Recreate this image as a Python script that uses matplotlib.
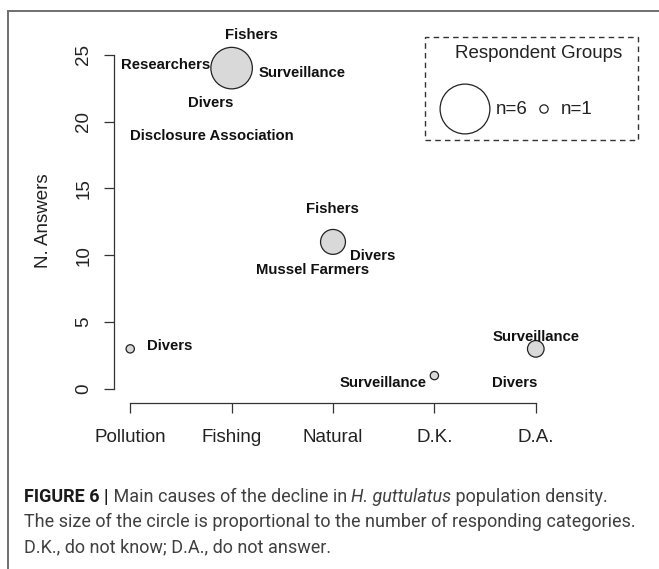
import matplotlib
matplotlib.use("Agg")
import matplotlib.pyplot as plt
import numpy as np
from matplotlib import font_manager
from matplotlib.patches import Rectangle
from matplotlib.lines import Line2D

# data
causes = ['Pollution', 'Fishing', 'Natural', 'D.K.', 'D.A.']
answers = [3, 24, 11, 1, 3]
groups = [['Divers'],
          ['Fishers', 'Researchers', 'Surveillance', 'Divers', 'Disclosure Association'],
          ['Fishers', 'Divers', 'Mussel Farmers'],
          ['Surveillance'],
          ['Surveillance', 'Divers']]
legend_n = [6, 1]

caption_bold = 'FIGURE 6 |'
caption_1 = [' Main causes of the decline in ', 'H. guttulatus', ' population density.']
caption_2 = 'The size of the circle is proportional to the number of responding categories.'
caption_3 = 'D.K., do not know; D.A., do not answer.'

# label offsets (data units) from each circle, same order as groups
offsets = [[(0.39, 0.24)],
           [(0.195, 2.46), (-0.653, 0.2), (0.70, -0.36), (-0.204, -2.6), (-0.20, -5.07)],
           [(-0.01, 2.43), (0.39, -1.06), (-0.2, -2.1)],
           [(-0.505, -0.58)],
           [(0.0, 0.91), (-0.21, -2.58)]]


def pick(fams):
    for f in fams:
        try:
            font_manager.findfont(f, fallback_to_default=False)
            return f
        except Exception:
            pass
    return 'DejaVu Sans'


plt.rcParams['font.family'] = ['Liberation Sans', 'DejaVu Sans']

W, H = 659, 569
fig = plt.figure(figsize=(W / 100, H / 100), dpi=100)


def fx(px):
    return px / W


def fy(py):
    return 1 - py / H


ax = fig.add_axes([fx(114), fy(403), fx(552) - fx(114), fy(24) - fy(403)])
x = np.arange(1, len(causes) + 1)
n_groups = np.array([len(g) for g in groups])
px_per_group = 8.3 * 0.72  # circle diameter in points per responding group

ax.scatter(x, answers, s=(px_per_group * n_groups) ** 2, facecolor='#d9d9d9',
           edgecolor='#222222', linewidths=0.9, zorder=3)

for xi, yi, labs, offs in zip(x, answers, groups, offsets):
    for lab, (dx, dy) in zip(labs, offs):
        ax.text(xi + dx, yi + dy, lab, ha='center', va='center', fontsize=10.7,
                fontweight='bold', color='#111111')

ax.set_xlim(0.84, 5.16)
ax.set_ylim(-1.05, 27.3)
ax.spines['top'].set_visible(False)
ax.spines['right'].set_visible(False)
ax.spines['left'].set_bounds(0, 25)
ax.spines['bottom'].set_bounds(1, 5)
for s in ['left', 'bottom']:
    ax.spines[s].set_color('#333333')
    ax.spines[s].set_linewidth(0.9)
ax.set_xticks(x, causes)
ax.set_yticks(range(0, 26, 5))
ax.tick_params(axis='both', length=7.5, width=0.9, color='#333333',
               labelsize=13.5, labelcolor='#222222')
ax.tick_params(axis='x', pad=11)
ax.tick_params(axis='y', pad=8)
for lab in ax.get_yticklabels():
    lab.set_rotation(90)
    lab.set_va('center')

fig.text(fx(44), fy(221), 'N. Answers', rotation=90, ha='center', va='center',
         fontsize=13.5, color='#222222')

# legend box
fig.add_artist(Rectangle((fx(425), fy(140)), fx(638) - fx(425), fy(37) - fy(140),
                         transform=fig.transFigure, fill=False, ec='#333333',
                         lw=1.0, ls=(0, (4, 3))))
fig.text(fx(539), fy(54), 'Respondent Groups', ha='center', va='center',
         fontsize=13.5, color='#222222')
ax.scatter([fx(465), fx(544)], [fy(109), fy(109)],
           s=(px_per_group * np.array(legend_n)) ** 2, facecolor='white',
           edgecolor='#222222', linewidths=0.9, transform=fig.transFigure,
           clip_on=False)
fig.text(fx(496), fy(109), 'n=%d' % legend_n[0], ha='left', va='center',
         fontsize=13.5, color='#222222')
fig.text(fx(561), fy(109), 'n=%d' % legend_n[1], ha='left', va='center',
         fontsize=13.5, color='#222222')

# outer frame
fig.add_artist(Line2D([fx(8), 1], [fy(11), fy(11)], transform=fig.transFigure,
                      color='#707070', lw=1.4))
fig.add_artist(Line2D([fx(8), fx(8)], [fy(11), 0], transform=fig.transFigure,
                      color='#707070', lw=1.4))

# caption
cap_fam = [pick(['Liberation Sans Narrow', 'Roboto', 'Lato']), 'DejaVu Sans']
renderer = fig.canvas.get_renderer()
t2 = fig.text(fx(24), fy(522), caption_2, family=cap_fam, fontsize=12,
              va='center', color='#404040')
w = t2.get_window_extent(renderer).width
cap_size = 12 * 611 / w
t2.set_fontsize(cap_size)
fig.text(fx(24), fy(547), caption_3, family=cap_fam, fontsize=cap_size,
         va='center', color='#404040')

t = fig.text(fx(24), fy(497), caption_bold, family=cap_fam, fontsize=cap_size,
             fontweight='bold', va='center', color='#1a1a1a')
xpos = t.get_window_extent(renderer).x1
styles = ['normal', 'italic', 'normal']
for piece, st in zip(caption_1, styles):
    t = fig.text(xpos / W, fy(497), piece, family=cap_fam, fontsize=cap_size,
                 style=st, va='center', color='#404040')
    xpos = t.get_window_extent(renderer).x1

fig.savefig('out.png', dpi=100)
